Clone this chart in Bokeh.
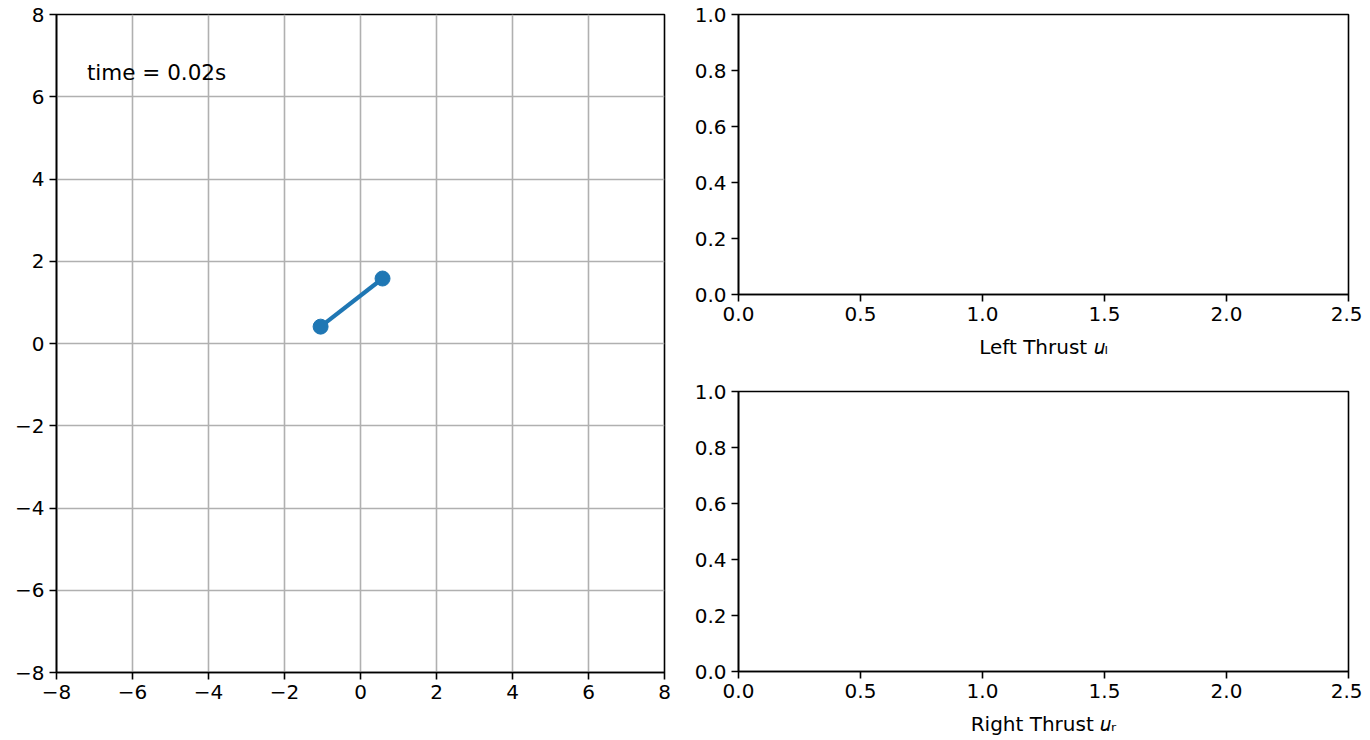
from bokeh.plotting import figure
from bokeh.layouts import row, column
from bokeh.models import Range1d, FixedTicker
from bokeh.core.properties import value
from bokeh.embed import file_html
from bokeh.resources import INLINE

# ---- data ----
pend_x = [-1.05, 0.58]
pend_y = [0.41, 1.58]
time_text = ["time = 0.02s"]
time_x = [-7.2]
time_y = [6.6]

main_ticks = [-8, -6, -4, -2, 0, 2, 4, 6, 8]
thrust_x_ticks = [0.0, 0.5, 1.0, 1.5, 2.0, 2.5]
thrust_y_ticks = [0.0, 0.2, 0.4, 0.6, 0.8, 1.0]
left_label = "Left Thrust \U0001D462\u2097"
right_label = "Right Thrust \U0001D462\u1D63"

FONT = "DejaVu Sans"
FS = "20px"
BLUE = "#1f77b4"


def fmt_int(v):
    return str(v).replace("-", "\u2212")


def style(p, xt, yt, xlabels, ylabels):
    p.outline_line_color = "black"
    p.outline_line_width = 1.6
    p.background_fill_color = "white"
    p.border_fill_color = "white"
    for ax in (p.xaxis[0], p.yaxis[0]):
        ax.axis_line_color = "black"
        ax.axis_line_width = 1.6
        ax.major_tick_line_color = "black"
        ax.major_tick_line_width = 1.6
        ax.major_tick_out = 7
        ax.major_tick_in = 0
        ax.minor_tick_line_color = None
        ax.major_label_text_font = FONT
        ax.major_label_text_font_size = FS
        ax.major_label_text_color = "black"
        ax.major_label_standoff = 5
        ax.axis_label_text_font = FONT
        ax.axis_label_text_font_size = FS
        ax.axis_label_text_font_style = "normal"
        ax.axis_label_text_color = "black"
        ax.axis_label_standoff = 11
    p.xaxis[0].ticker = FixedTicker(ticks=xt)
    p.yaxis[0].ticker = FixedTicker(ticks=yt)
    p.xaxis[0].major_label_overrides = dict(zip(xt, xlabels))
    p.yaxis[0].major_label_overrides = dict(zip(yt, ylabels))


# ---- main plot ----
p = figure(width=678, height=736, output_backend="svg", toolbar_location=None,
           x_range=Range1d(-8, 8), y_range=Range1d(-8, 8),
           min_border_left=56, min_border_top=14, min_border_right=14, min_border_bottom=64)
style(p, main_ticks, main_ticks, [fmt_int(t) for t in main_ticks], [fmt_int(t) for t in main_ticks])
p.xgrid.ticker = FixedTicker(ticks=main_ticks)
p.ygrid.ticker = FixedTicker(ticks=main_ticks)
p.grid.grid_line_color = "#b0b0b0"
p.grid.grid_line_width = 1.6
p.line(pend_x, pend_y, line_color=BLUE, line_width=4.2)
p.scatter(pend_x, pend_y, size=15, fill_color=BLUE, line_color=BLUE)
p.text(x=time_x, y=time_y, text=time_text, text_font=value(FONT), text_font_size="21.5px",
       text_baseline="alphabetic", text_align="left", text_color="black")

# ---- thrust plots ----
def thrust_fig(label, height, top, bottom):
    q = figure(width=684, height=height, output_backend="svg", toolbar_location=None,
               x_range=Range1d(0, 2.5), y_range=Range1d(0, 1),
               min_border_left=60, min_border_right=14, min_border_top=top, min_border_bottom=bottom)
    style(q, thrust_x_ticks, thrust_y_ticks,
          ["%.1f" % t for t in thrust_x_ticks], ["%.1f" % t for t in thrust_y_ticks])
    q.grid.grid_line_color = None
    q.xaxis[0].axis_label = label
    return q

q1 = thrust_fig(left_label, 366, 14, 72)
q2 = thrust_fig(right_label, 372, 25, 67)

layout = row(p, column(q1, q2))
open("out.html", "w").write(file_html(layout, INLINE))
